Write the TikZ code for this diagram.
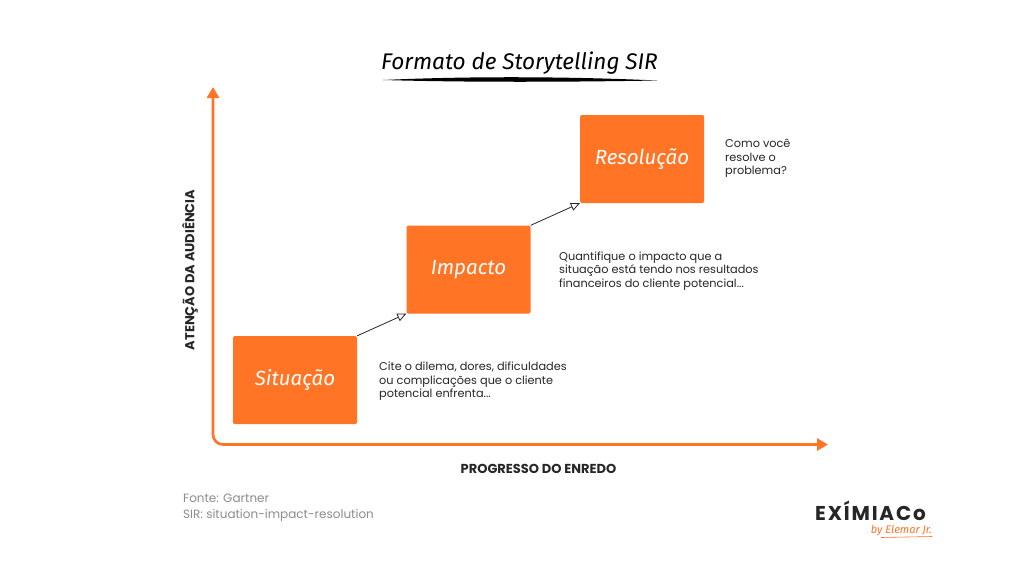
\documentclass[tikz,border=0pt]{standalone}
\usepackage{fontspec}
\setmainfont{Poppins}
\newfontfamily\handfont{Fira Sans Italic}
\usetikzlibrary{arrows.meta}
\definecolor{sirorange}{HTML}{FF7425}
\definecolor{sirtext}{HTML}{262626}
\definecolor{sirgrey}{HTML}{8C8C8C}
\tikzset{
  stagebox/.style={fill=sirorange,minimum width=124pt,minimum height=88pt,rounded corners=1.5pt,inner sep=0pt,
    text=white,font=\handfont\fontsize{20.5}{21}\selectfont},
  note/.style={anchor=west,align=left,text=sirtext,inner sep=0pt,font=\fontsize{11.3}{13.6}\selectfont},
  axislabel/.style={text=sirtext,inner sep=0pt,font=\fontsize{13}{14}\selectfont\bfseries},
  source/.style={anchor=west,text=sirgrey,inner sep=0pt,font=\fontsize{12}{14}\selectfont},
  axisline/.style={draw=sirorange,line width=2.6pt,rounded corners=10pt,{Triangle[length=11pt,width=12pt]}-{Triangle[length=11pt,width=12pt]}},
  stagearrow/.style={draw=sirtext,line width=0.8pt,-{Triangle[open,length=9pt,width=8pt]}},
}
\begin{document}
\begin{tikzpicture}[x=1pt,y=-1pt]
  \useasboundingbox (0,0) rectangle (1024,576);
  \fill[white] (0,0) rectangle (1024,576);
  % title
  \node[text=black,inner sep=0pt,font=\handfont\fontsize{22.6}{24}\selectfont] (title) at (519.5,63) {Formato de Storytelling SIR};
  \coordinate (ruleL) at (383,80);
  \coordinate (ruleR) at (657,80.5);
  \fill[black] (ruleL) .. controls (470,76) and (570,76.5) .. (ruleR) .. controls (570,82) and (470,82.5) .. (ruleL);
  % axes
  \coordinate (ytop) at (213,87);
  \coordinate (origin) at (213,444.5);
  \coordinate (xend) at (828,444.5);
  \draw[axisline] (ytop) -- (origin) -- (xend);
  \node[axislabel,rotate=90] (ylabel) at (190,270) {ATENÇÃO DA AUDIÊNCIA};
  \node[axislabel] (xlabel) at (538.5,469) {PROGRESSO DO ENREDO};
  % stages
  \node[stagebox] (situacao) at (295,380) {Situação};
  \node[stagebox] (impacto) at (468.5,269.5) {Impacto};
  \node[stagebox] (resolucao) at (642,159) {Resolução};
  \draw[stagearrow] (situacao.north east) -- (impacto.south west);
  \draw[stagearrow] (impacto.north east) -- (resolucao.south west);
  % notes
  \node[note] (notesit) at (379,381.5) {Cite o dilema, dores, dificuldades\\ou complicações que o cliente\\potencial enfrenta...};
  \node[note] (noteimp) at (559,271) {Quantifique o impacto que a\\situação está tendo nos resultados\\financeiros do cliente potencial...};
  \node[note] (noteres) at (725,158.5) {Como você\\resolve o\\problema?};
  % source
  \node[source] (fonte) at (183,498) {Fonte: Gartner};
  \node[source] (sir) at (183,515.5) {SIR: situation-impact-resolution};
  % logo
  \node[anchor=west,text=sirtext,inner sep=0pt,font=\fontsize{20}{20}\selectfont\bfseries\addfontfeature{LetterSpace=9}] (logo) at (815,510.5) {EXÍMIACo};
  \node[anchor=east,text=sirorange,inner sep=0pt,font=\handfont\fontsize{11}{11}\selectfont] (byline) at (932,531) {by Elemar Jr.};
  \coordinate (bylineL) at (881,537.5);
  \coordinate (bylineR) at (932,536.5);
  \draw[sirorange,line width=0.6pt] (bylineL) -- (bylineR);
\end{tikzpicture}
\end{document}
